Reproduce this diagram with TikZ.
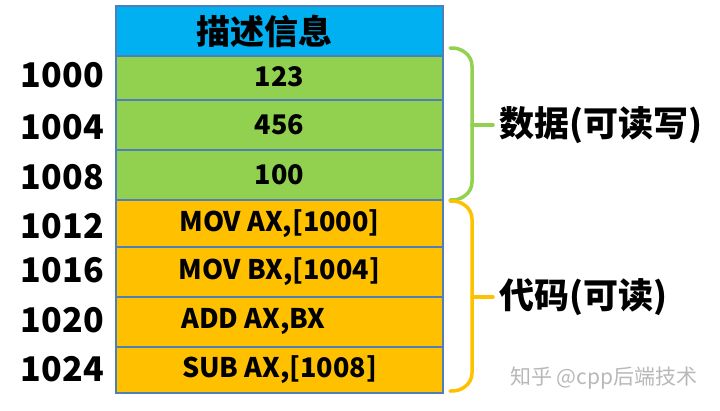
\documentclass[tikz,border=0pt]{standalone}
\usepackage{fontspec}
\setmainfont{Noto Sans CJK SC}
\definecolor{hdrblue}{HTML}{00B0F0}
\definecolor{cellgreen}{HTML}{92D050}
\definecolor{cellorange}{HTML}{FFC000}
\definecolor{cellline}{HTML}{4F7FB8}
\definecolor{bracegreen}{HTML}{92D050}
\definecolor{braceorange}{HTML}{FFC000}
\tikzset{
  cell/.style={draw=cellline, line width=1.5pt, minimum width=327pt, inner sep=0pt, font=\fontsize{27}{29}\selectfont\bfseries},
  addr/.style={anchor=east, inner sep=0pt, font=\fontsize{34}{36}\selectfont\bfseries},
  side/.style={anchor=west, inner sep=0pt, font=\fontsize{35}{37}\selectfont\bfseries},
  bracestyle/.style={line width=3.5pt, line cap=round, line join=round}
}
\begin{document}
\begin{tikzpicture}[x=1pt,y=-1pt]
\useasboundingbox (0,0) rectangle (720,410);
% cells
\node[cell, fill=hdrblue, minimum height=50pt, font=\fontsize{34}{36}\selectfont\bfseries] (hdr) at (279.5,31) {\hspace*{-30pt}描述信息};
\node[cell, fill=cellgreen, minimum height=44pt] (c1) at (279.5,78) {\raisebox{2pt}{123}};
\node[cell, fill=cellgreen, minimum height=50pt] (c2) at (279.5,125) {456};
\node[cell, fill=cellgreen, minimum height=50pt] (c3) at (279.5,175) {100};
\node[cell, fill=cellorange, minimum height=47pt] (c4) at (279.5,223.5) {\raisebox{4pt}{MOV AX,[1000]}};
\node[cell, fill=cellorange, minimum height=50pt] (c5) at (279.5,272) {\raisebox{3pt}{MOV BX,[1004]}};
\node[cell, fill=cellorange, minimum height=50pt] (c6) at (279.5,322) {ADD AX,BX\hspace*{52pt}};
\node[cell, fill=cellorange, minimum height=46pt] (c7) at (279.5,370) {SUB AX,[1008]};
% addresses
\node[addr] (a1) at (104,75) {1000};
\node[addr] (a2) at (104,127) {1004};
\node[addr] (a3) at (104,177) {1008};
\node[addr] (a4) at (104,226) {1012};
\node[addr] (a5) at (104,270) {1016};
\node[addr] (a6) at (104,320) {1020};
\node[addr] (a7) at (104,369) {1024};
% side labels
\node[side] (data) at (499,125) {数据(可读写)};
\node[side] (code) at (499,297) {代码(可读)};
% braces
\coordinate (gtop) at (450,48);
\coordinate (gbot) at (450,200);
\coordinate (gmid) at (472,125);
\coordinate (otop) at (450,201);
\coordinate (obot) at (450,391);
\coordinate (omid) at (472,297);
\draw[bracestyle, draw=bracegreen] (gtop) to[out=5,in=90] (472,66) -- (472,182) to[out=-90,in=-5] (gbot);
\draw[bracestyle, draw=bracegreen] (gmid) -- ([xshift=-6pt]data.west);
\draw[bracestyle, draw=braceorange] (otop) to[out=5,in=90] (472,219) -- (472,373) to[out=-90,in=-5] (obot);
\draw[bracestyle, draw=braceorange] (omid) -- ([xshift=-6pt]code.west);
% watermark
\node[anchor=west, inner sep=0pt, text=black!28, font=\fontsize{21}{23}\selectfont] (wm) at (510,378) {知乎 @cpp后端技术};
\end{tikzpicture}
\end{document}
